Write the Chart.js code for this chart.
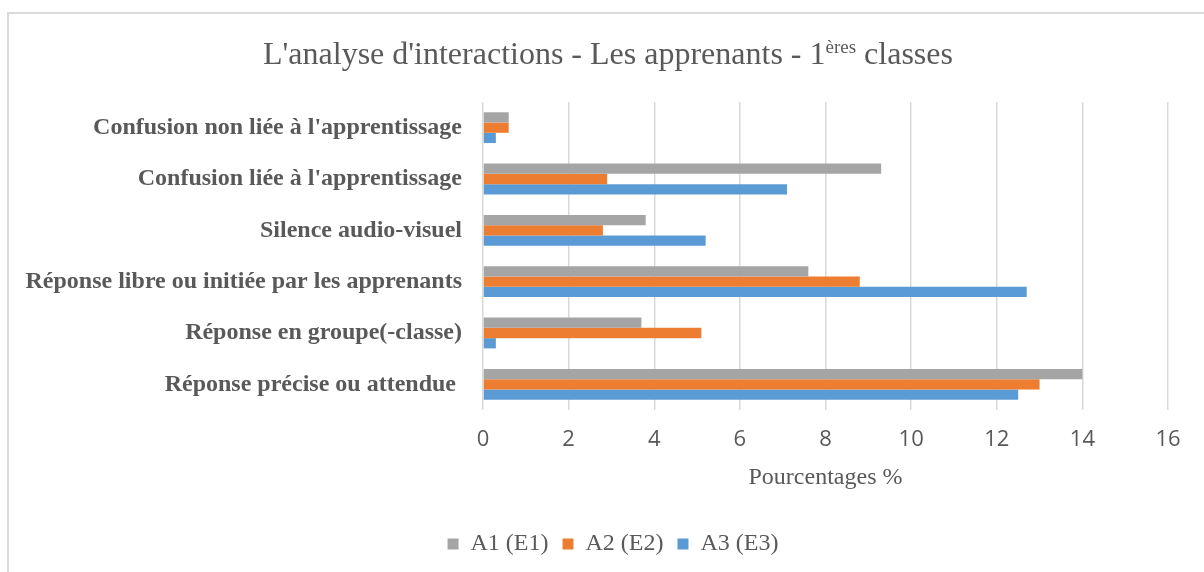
<!DOCTYPE html>
<html>
<head>
<meta charset="utf-8">
<script src="https://cdn.jsdelivr.net/npm/chart.js@4/dist/chart.umd.min.js"></script>
<style>
  html, body { margin: 0; padding: 0; background: #ffffff; overflow: hidden; }
  #frame { position: absolute; left: 7px; top: 12px; width: 1400px; height: 800px; border: 2px solid #dadada; box-sizing: border-box; }
  #wrap { position: absolute; left: 0; top: 0; width: 1204px; height: 572px; }
</style>
</head>
<body>
<div id="frame"></div>
<div id="wrap"><canvas id="c" width="1204" height="572"></canvas></div>
<script>
const categories = [
  "Confusion non liée à l'apprentissage",
  "Confusion liée à l'apprentissage",
  "Silence audio-visuel",
  "Réponse libre ou initiée par les apprenants",
  "Réponse en groupe(-classe)",
  "Réponse précise ou attendue "
];
const seriesNames = ["A1 (E1)", "A2 (E2)", "A3 (E3)"];
const a1Values = [0.6, 9.3, 3.8, 7.6, 3.7, 14];
const a2Values = [0.6, 2.9, 2.8, 8.8, 5.1, 13];
const a3Values = [0.3, 7.1, 5.2, 12.7, 0.3, 12.5];
const xTickMin = 0, xTickMax = 16, xTickStep = 2;
const titleMain = "L'analyse d'interactions - Les apprenants - 1";
const titleSup = "ères";
const titleEnd = " classes";
const xAxisTitle = "Pourcentages %";

const TEXT = '#595959';
const SERIF = '"Liberation Serif", "Times New Roman", serif';

const titlePlugin = {
  id: 'supTitle',
  beforeDraw(chart) {
    // centre the legend on the same axis as in the original (shift to the right)
    if (chart.legend) { chart.legend.left = 58; chart.legend.right = 1168; }
  },
  afterDraw(chart) {
    const ctx = chart.ctx;
    ctx.save();
    ctx.fillStyle = TEXT;
    ctx.textBaseline = 'alphabetic';
    ctx.textAlign = 'left';
    const big = '32px ' + SERIF, small = '19px ' + SERIF;
    ctx.font = big; const w1 = ctx.measureText(titleMain).width; const w3 = ctx.measureText(titleEnd).width;
    ctx.font = small; const w2 = ctx.measureText(titleSup).width;
    const total = w1 + w2 + w3;
    let x = 608 - total / 2;
    const base = 64;
    ctx.font = big; ctx.fillText(titleMain, x, base); x += w1;
    ctx.font = small; ctx.fillText(titleSup, x, base - 11); x += w2;
    ctx.font = big; ctx.fillText(titleEnd, x, base);
    ctx.restore();
  }
};

new Chart(document.getElementById('c'), {
  type: 'bar',
  data: {
    labels: categories,
    datasets: [
      { label: seriesNames[0], data: a1Values, backgroundColor: '#A5A5A5' },
      { label: seriesNames[1], data: a2Values, backgroundColor: '#ED7D31' },
      { label: seriesNames[2], data: a3Values, backgroundColor: '#5B9BD5' }
    ]
  },
  options: {
    indexAxis: 'y',
    responsive: false,
    animation: false,
    devicePixelRatio: 1,
    categoryPercentage: 0.6,
    barPercentage: 1.0,
    layout: { padding: { top: 102, right: 36, bottom: 6, left: 0 } },
    plugins: {
      title: { display: false },
      tooltip: { enabled: false },
      legend: {
        position: 'bottom',
        labels: {
          boxWidth: 11, boxHeight: 11, padding: 14,
          color: TEXT,
          font: { family: SERIF, size: 24 }
        }
      }
    },
    scales: {
      x: {
        min: xTickMin, max: xTickMax,
        afterFit(axis) { axis.height = 108; },
        ticks: { stepSize: xTickStep, color: TEXT, padding: 17, font: { family: '"Open Sans", sans-serif', size: 22 } },
        grid: { color: '#d9d9d9', lineWidth: 1.5, drawTicks: false },
        border: { display: false },
        title: { display: true, text: xAxisTitle, color: TEXT, font: { family: SERIF, size: 24 }, padding: { top: 8, bottom: 26 } }
      },
      y: {
        afterFit(axis) { axis.width = 483; },
        ticks: { color: TEXT, padding: 21, font: { family: SERIF, size: 24, weight: 'bold' } },
        grid: { display: false, drawTicks: false },
        border: { display: false }
      }
    }
  },
  plugins: [titlePlugin]
});
</script>
</body>
</html>
